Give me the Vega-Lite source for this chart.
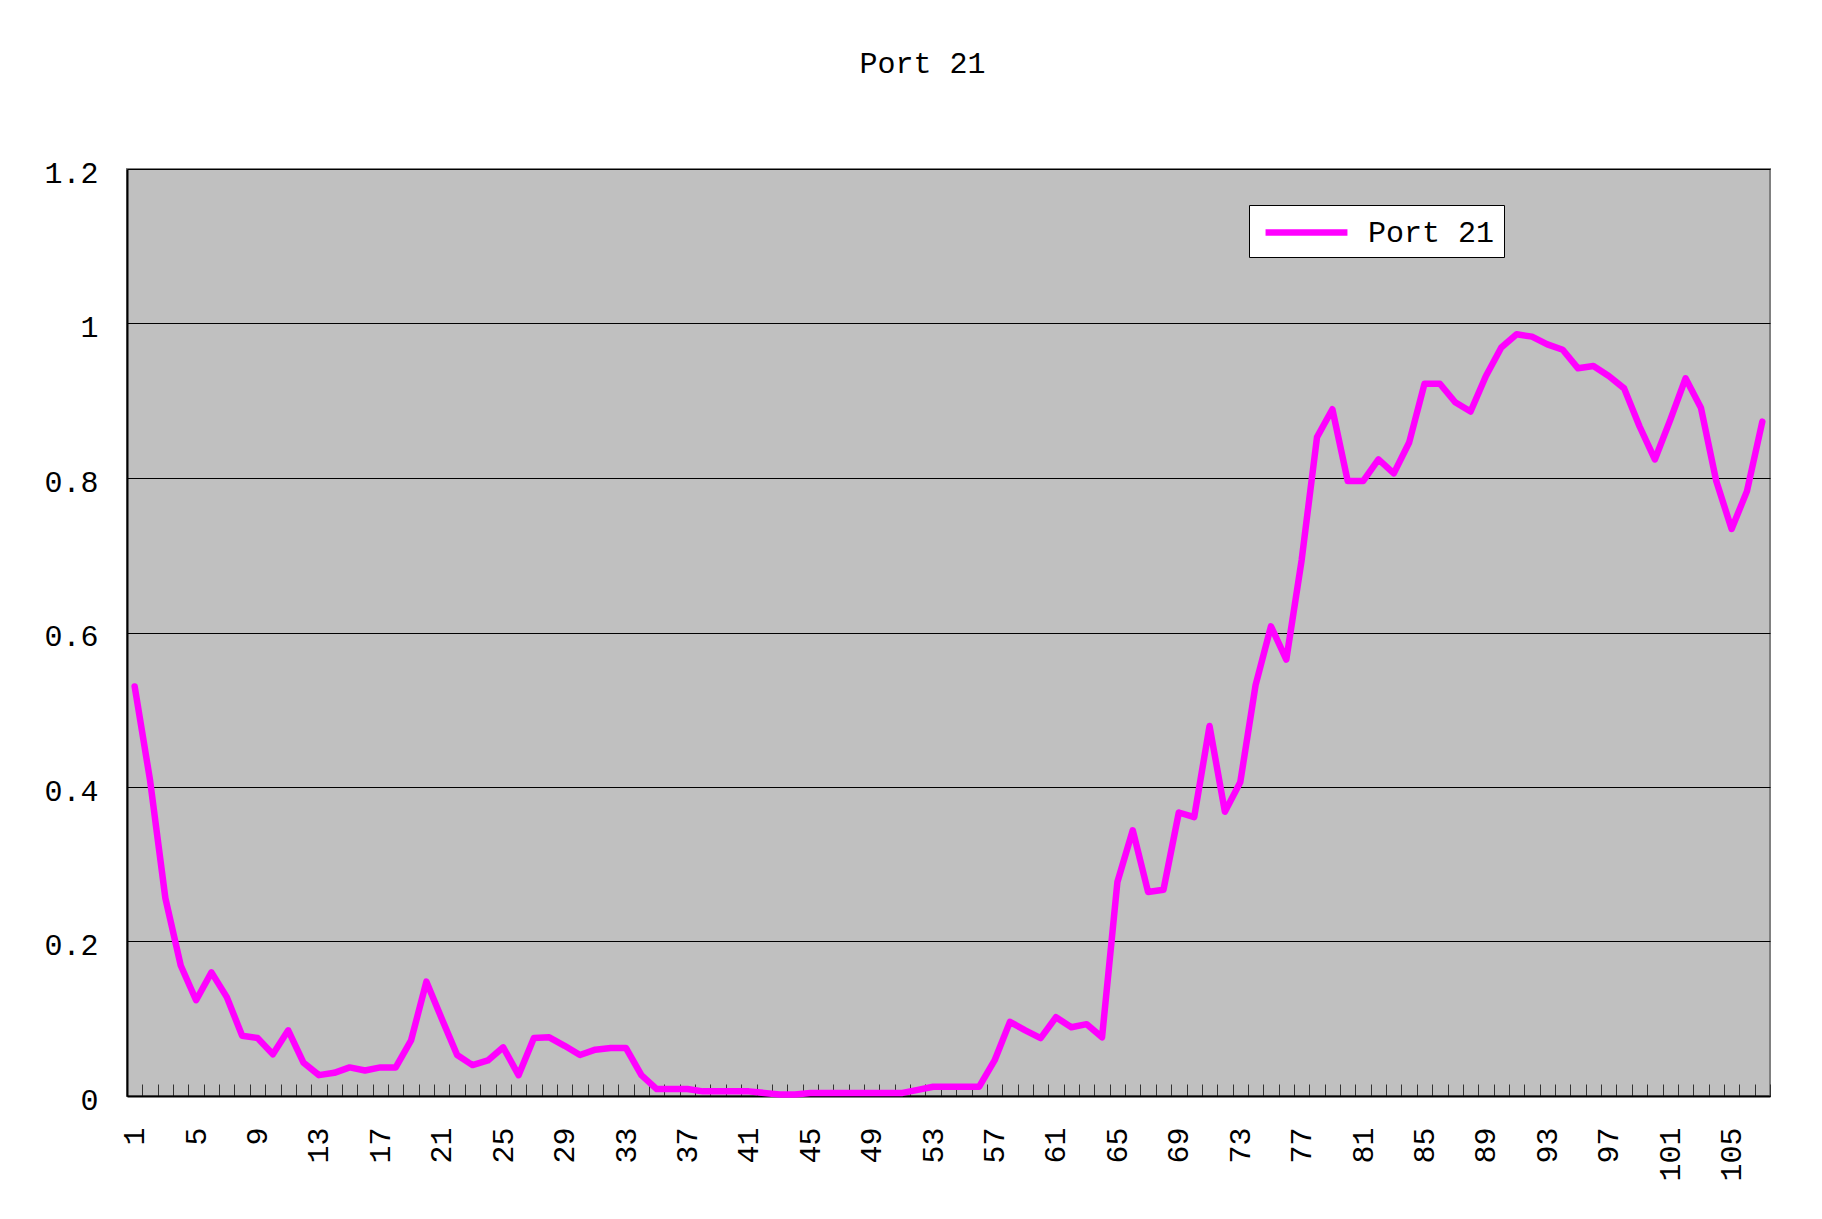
{
  "$schema": "https://vega.github.io/schema/vega-lite/v6.json",
  "autosize": {"type": "none"},
  "padding": {"left": 127, "top": 169, "right": 52, "bottom": 123},
  "width": 1643,
  "height": 927,
  "background": "white",
  "title": {"text": "Port 21", "font": "Liberation Mono", "fontSize": 30, "fontWeight": "normal", "color": "black", "anchor": "middle", "dx": -26, "offset": 79},
  "data": {"values": [
    {"n":1,"v":0.530,"s":"Port 21"},{"n":2,"v":0.409,"s":"Port 21"},{"n":3,"v":0.256,"s":"Port 21"},{"n":4,"v":0.169,"s":"Port 21"},
    {"n":5,"v":0.124,"s":"Port 21"},{"n":6,"v":0.160,"s":"Port 21"},{"n":7,"v":0.128,"s":"Port 21"},{"n":8,"v":0.078,"s":"Port 21"},
    {"n":9,"v":0.075,"s":"Port 21"},{"n":10,"v":0.054,"s":"Port 21"},{"n":11,"v":0.085,"s":"Port 21"},{"n":12,"v":0.043,"s":"Port 21"},
    {"n":13,"v":0.027,"s":"Port 21"},{"n":14,"v":0.030,"s":"Port 21"},{"n":15,"v":0.037,"s":"Port 21"},{"n":16,"v":0.033,"s":"Port 21"},
    {"n":17,"v":0.037,"s":"Port 21"},{"n":18,"v":0.037,"s":"Port 21"},{"n":19,"v":0.072,"s":"Port 21"},{"n":20,"v":0.148,"s":"Port 21"},
    {"n":21,"v":0.100,"s":"Port 21"},{"n":22,"v":0.053,"s":"Port 21"},{"n":23,"v":0.040,"s":"Port 21"},{"n":24,"v":0.046,"s":"Port 21"},
    {"n":25,"v":0.063,"s":"Port 21"},{"n":26,"v":0.027,"s":"Port 21"},{"n":27,"v":0.075,"s":"Port 21"},{"n":28,"v":0.076,"s":"Port 21"},
    {"n":29,"v":0.065,"s":"Port 21"},{"n":30,"v":0.053,"s":"Port 21"},{"n":31,"v":0.060,"s":"Port 21"},{"n":32,"v":0.062,"s":"Port 21"},
    {"n":33,"v":0.062,"s":"Port 21"},{"n":34,"v":0.027,"s":"Port 21"},{"n":35,"v":0.009,"s":"Port 21"},{"n":36,"v":0.009,"s":"Port 21"},
    {"n":37,"v":0.009,"s":"Port 21"},{"n":38,"v":0.006,"s":"Port 21"},{"n":39,"v":0.006,"s":"Port 21"},{"n":40,"v":0.006,"s":"Port 21"},
    {"n":41,"v":0.006,"s":"Port 21"},{"n":42,"v":0.004,"s":"Port 21"},{"n":43,"v":0.002,"s":"Port 21"},{"n":44,"v":0.002,"s":"Port 21"},
    {"n":45,"v":0.004,"s":"Port 21"},{"n":46,"v":0.004,"s":"Port 21"},{"n":47,"v":0.004,"s":"Port 21"},{"n":48,"v":0.004,"s":"Port 21"},
    {"n":49,"v":0.004,"s":"Port 21"},{"n":50,"v":0.004,"s":"Port 21"},{"n":51,"v":0.004,"s":"Port 21"},{"n":52,"v":0.008,"s":"Port 21"},
    {"n":53,"v":0.012,"s":"Port 21"},{"n":54,"v":0.012,"s":"Port 21"},{"n":55,"v":0.012,"s":"Port 21"},{"n":56,"v":0.012,"s":"Port 21"},
    {"n":57,"v":0.046,"s":"Port 21"},{"n":58,"v":0.096,"s":"Port 21"},{"n":59,"v":0.085,"s":"Port 21"},{"n":60,"v":0.075,"s":"Port 21"},
    {"n":61,"v":0.102,"s":"Port 21"},{"n":62,"v":0.089,"s":"Port 21"},{"n":63,"v":0.093,"s":"Port 21"},{"n":64,"v":0.076,"s":"Port 21"},
    {"n":65,"v":0.277,"s":"Port 21"},{"n":66,"v":0.344,"s":"Port 21"},{"n":67,"v":0.264,"s":"Port 21"},{"n":68,"v":0.267,"s":"Port 21"},
    {"n":69,"v":0.367,"s":"Port 21"},{"n":70,"v":0.361,"s":"Port 21"},{"n":71,"v":0.479,"s":"Port 21"},{"n":72,"v":0.368,"s":"Port 21"},
    {"n":73,"v":0.406,"s":"Port 21"},{"n":74,"v":0.532,"s":"Port 21"},{"n":75,"v":0.608,"s":"Port 21"},{"n":76,"v":0.565,"s":"Port 21"},
    {"n":77,"v":0.694,"s":"Port 21"},{"n":78,"v":0.853,"s":"Port 21"},{"n":79,"v":0.889,"s":"Port 21"},{"n":80,"v":0.796,"s":"Port 21"},
    {"n":81,"v":0.796,"s":"Port 21"},{"n":82,"v":0.824,"s":"Port 21"},{"n":83,"v":0.806,"s":"Port 21"},{"n":84,"v":0.846,"s":"Port 21"},
    {"n":85,"v":0.922,"s":"Port 21"},{"n":86,"v":0.922,"s":"Port 21"},{"n":87,"v":0.898,"s":"Port 21"},{"n":88,"v":0.886,"s":"Port 21"},
    {"n":89,"v":0.932,"s":"Port 21"},{"n":90,"v":0.969,"s":"Port 21"},{"n":91,"v":0.986,"s":"Port 21"},{"n":92,"v":0.983,"s":"Port 21"},
    {"n":93,"v":0.973,"s":"Port 21"},{"n":94,"v":0.966,"s":"Port 21"},{"n":95,"v":0.942,"s":"Port 21"},{"n":96,"v":0.945,"s":"Port 21"},
    {"n":97,"v":0.932,"s":"Port 21"},{"n":98,"v":0.916,"s":"Port 21"},{"n":99,"v":0.867,"s":"Port 21"},{"n":100,"v":0.824,"s":"Port 21"},
    {"n":101,"v":0.875,"s":"Port 21"},{"n":102,"v":0.929,"s":"Port 21"},{"n":103,"v":0.891,"s":"Port 21"},{"n":104,"v":0.796,"s":"Port 21"},
    {"n":105,"v":0.734,"s":"Port 21"},{"n":106,"v":0.783,"s":"Port 21"},{"n":107,"v":0.873,"s":"Port 21"}
  ]},
  "mark": {"type": "line", "strokeWidth": 6.5, "strokeJoin": "round", "strokeCap": "round"},
  "encoding": {
    "x": {
      "field": "n", "type": "ordinal", "bandPosition": 0.5,
      "scale": {"type": "band", "paddingInner": 0, "paddingOuter": 0},
      "axis": {"title": null, "labelAngle": -90, "labelExpr": "(datum.value - 1) % 4 === 0 ? datum.label : ''",
        "labelOverlap": false, "tickBand": "extent", "tickSize": -12, "tickColor": "#333333", "tickWidth": 1,
        "domainColor": "black", "domainWidth": 2, "labelFont": "Liberation Mono", "labelFontSize": 30,
        "labelColor": "black", "labelPadding": 43, "grid": false}
    },
    "y": {
      "field": "v", "type": "quantitative",
      "scale": {"domain": [0, 1.2], "nice": false, "zero": true},
      "axis": {"title": null, "values": [0, 0.2, 0.4, 0.6, 0.8, 1, 1.2], "format": "~g", "grid": true,
        "gridColor": "black", "gridWidth": 1, "ticks": false, "domainColor": "black", "domainWidth": 2,
        "labelFont": "Liberation Mono", "labelFontSize": 30, "labelColor": "black", "labelPadding": 29,
        "labelOffset": 4, "labelFlush": false}
    },
    "color": {
      "field": "s", "type": "nominal",
      "scale": {"domain": ["Port 21"], "range": ["#FF00FF"]},
      "legend": {"orient": "none", "legendX": 1122, "legendY": 36, "title": null, "fillColor": "white",
        "strokeColor": "black", "padding": 9, "symbolType": "M-2.73,0H2.73", "symbolSize": 900,
        "symbolOffset": 30, "symbolStrokeWidth": 6.5, "labelFont": "Liberation Mono", "labelFontSize": 30, "labelColor": "black",
        "labelOffset": 43, "cornerRadius": 0}
    }
  },
  "config": {"view": {"fill": "#C0C0C0", "stroke": "#808080", "strokeWidth": 2}}
}
